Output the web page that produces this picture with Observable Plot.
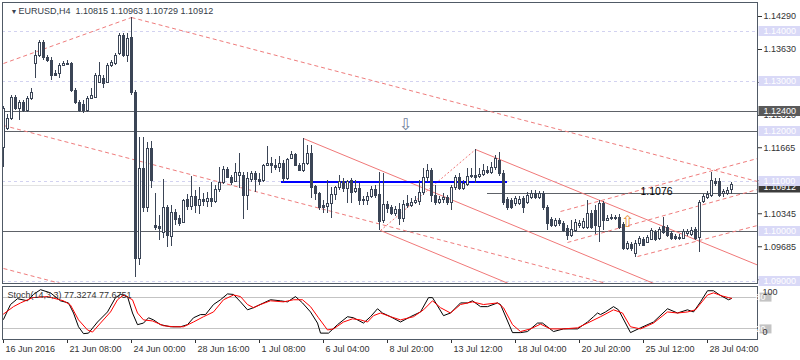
<!DOCTYPE html>
<html>
<head>
<meta charset="utf-8">
<script src="https://cdn.jsdelivr.net/npm/d3@7"></script>
<script src="https://cdn.jsdelivr.net/npm/@observablehq/plot@0.6"></script>
<style>
html,body{margin:0;padding:0;background:#fff;}
#chart{width:800px;height:360px;overflow:hidden;}
#chart svg{display:block;}
#chart svg text{white-space:pre;}
#chart svg rect, #chart svg line{shape-rendering:crispEdges;}
</style>
</head>
<body>
<div id="chart"></div>
<script>
// ---------- data ----------
const symbolName = "EURUSD";
const timeframe = "H4";

const opens = [1.1167,1.1205,1.1225,1.1267,1.1245,1.1257,1.1241,1.1265,1.1335,1.1351,1.1377,1.1347,1.1341,1.1315,1.1315,1.1331,1.1335,1.1335,1.1281,1.1257,1.1253,1.1241,1.1265,1.1267,1.1297,1.1305,1.1297,1.1331,1.1335,1.1355,1.1391,1.1351,1.1387,1.1277,1.0945,1.1125,1.1047,1.1165,1.1011,1.1009,1.0997,1.1047,1.0989,1.1037,1.1025,1.1017,1.1063,1.1049,1.1069,1.1051,1.1063,1.1059,1.1065,1.1059,1.1083,1.1097,1.1123,1.1107,1.1099,1.1111,1.1111,1.1071,1.1103,1.1115,1.1103,1.1101,1.1131,1.1135,1.1131,1.1127,1.1135,1.1105,1.1145,1.1153,1.1131,1.1121,1.1135,1.1155,1.1089,1.1075,1.1051,1.1049,1.1055,1.1073,1.1087,1.1099,1.1085,1.1101,1.1079,1.1085,1.1063,1.1061,1.1069,1.1083,1.1073,1.1021,1.1053,1.1047,1.1035,1.1043,1.1025,1.1055,1.1051,1.1057,1.1059,1.1077,1.1107,1.1121,1.1071,1.1057,1.1063,1.1067,1.1057,1.1087,1.1107,1.1085,1.1093,1.1109,1.1111,1.1109,1.1113,1.1121,1.1117,1.1127,1.1141,1.1115,1.1063,1.1061,1.1055,1.1055,1.1065,1.1057,1.1067,1.1075,1.1067,1.1075,1.1047,1.1023,1.1011,1.1021,1.1015,1.1005,1.0991,1.1001,1.1011,1.1007,1.1007,1.1035,1.1041,1.1009,1.1055,1.1021,1.1025,1.1027,1.1027,1.1013,1.0965,1.0973,1.0955,1.0975,1.0983,1.0977,1.0983,1.0997,1.0985,1.1009,1.1007,1.0995,1.0989,1.0987,1.0985,1.0995,1.0993,1.1003,1.0987,1.1059,1.1067,1.1071,1.1099,1.1099,1.1075,1.1075,1.10815];
const highs = [1.1249,1.1233,1.1271,1.1271,1.1261,1.1261,1.1269,1.1285,1.1361,1.1381,1.1381,1.1351,1.1347,1.1321,1.1335,1.1339,1.1341,1.1337,1.1285,1.1261,1.1261,1.1269,1.1285,1.1315,1.1337,1.1311,1.1335,1.1341,1.1355,1.1395,1.1395,1.1395,1.1427,1.1281,1.1187,1.1187,1.1177,1.1179,1.1075,1.1031,1.1103,1.1051,1.1051,1.1043,1.1031,1.1063,1.1073,1.1109,1.1081,1.1087,1.1075,1.1077,1.1097,1.1091,1.1127,1.1129,1.1127,1.1111,1.1135,1.1155,1.1117,1.1117,1.1119,1.1119,1.1115,1.1133,1.1169,1.1147,1.1143,1.1149,1.1141,1.1145,1.1159,1.1155,1.1135,1.1185,1.1171,1.1171,1.1091,1.1077,1.1061,1.1101,1.1087,1.1089,1.1111,1.1105,1.1101,1.1105,1.1101,1.1095,1.1069,1.1077,1.1089,1.1091,1.1117,1.1115,1.1059,1.1051,1.1049,1.1055,1.1061,1.1071,1.1065,1.1069,1.1101,1.1125,1.1133,1.1125,1.1091,1.1069,1.1075,1.1071,1.1091,1.1111,1.1115,1.1101,1.1125,1.1125,1.1163,1.1125,1.1133,1.1129,1.1137,1.1151,1.1157,1.1121,1.1067,1.1065,1.1069,1.1069,1.1069,1.1077,1.1081,1.1081,1.1079,1.1079,1.1051,1.1027,1.1025,1.1025,1.1019,1.1011,1.1021,1.1023,1.1021,1.1025,1.1061,1.1041,1.1051,1.1061,1.1059,1.1031,1.1033,1.1031,1.1033,1.1017,1.0979,1.0977,1.0981,1.0989,1.0987,1.0991,1.1005,1.1001,1.1007,1.1027,1.1011,1.0999,1.0993,1.0993,1.1003,1.1003,1.1007,1.1007,1.1061,1.1073,1.1079,1.1117,1.1105,1.1105,1.1083,1.1087,1.10963];
const lows = [1.1127,1.1201,1.1221,1.1241,1.1221,1.1237,1.1237,1.1261,1.1305,1.1347,1.1341,1.1337,1.1301,1.1309,1.1305,1.1329,1.1331,1.1277,1.1253,1.1237,1.1235,1.1237,1.1263,1.1265,1.1295,1.1285,1.1295,1.1327,1.1331,1.1351,1.1347,1.1337,1.1271,1.0907,1.0931,1.1037,1.1037,1.1085,1.1001,1.0981,1.0985,1.0967,1.0969,1.1011,1.1009,1.1015,1.1041,1.1041,1.1035,1.1033,1.1049,1.1047,1.1047,1.1055,1.1077,1.1093,1.1105,1.1091,1.1097,1.1085,1.1023,1.1041,1.1097,1.1077,1.1091,1.1097,1.1129,1.1115,1.1121,1.1117,1.1097,1.1101,1.1143,1.1129,1.1119,1.1117,1.1131,1.1065,1.1061,1.1041,1.1035,1.1035,1.1025,1.1061,1.1081,1.1077,1.1055,1.1055,1.1075,1.1051,1.1051,1.1051,1.1065,1.1065,1.1001,1.1015,1.1035,1.1031,1.1029,1.1011,1.1017,1.1045,1.1047,1.1053,1.1051,1.1071,1.1097,1.1057,1.1051,1.1053,1.1055,1.1051,1.1041,1.1081,1.1081,1.1081,1.1089,1.1105,1.1095,1.1105,1.1109,1.1113,1.1113,1.1121,1.1109,1.1051,1.1041,1.1043,1.1049,1.1051,1.1035,1.1053,1.1063,1.1063,1.1063,1.1041,1.1001,1.1007,1.1007,1.1009,1.0997,1.0981,1.0987,1.0997,1.1005,1.1003,1.1003,1.1003,1.0993,1.0977,1.1001,1.1019,1.1021,1.1021,1.1003,1.0961,1.0961,1.0959,1.0947,1.0969,1.0969,1.0975,1.0981,1.0979,1.0981,1.0993,1.0987,1.0981,1.0981,1.0981,1.0983,1.0989,1.0989,1.0981,1.0957,1.1055,1.1063,1.1067,1.1089,1.1067,1.1067,1.1071,1.10729];
const closes = [1.1245,1.1225,1.1267,1.1245,1.1257,1.1241,1.1265,1.1277,1.1351,1.1377,1.1347,1.1341,1.1311,1.1311,1.1331,1.1335,1.1333,1.1281,1.1257,1.1241,1.1241,1.1265,1.1271,1.1311,1.1311,1.1295,1.1331,1.1337,1.1351,1.1391,1.1351,1.1385,1.1277,1.0945,1.1125,1.1047,1.1165,1.1101,1.1007,1.1005,1.1047,1.0991,1.1037,1.1023,1.1015,1.1061,1.1049,1.1069,1.1051,1.1063,1.1059,1.1065,1.1059,1.1083,1.1097,1.1123,1.1107,1.1097,1.1117,1.1117,1.1071,1.1105,1.1115,1.1103,1.1099,1.1131,1.1135,1.1131,1.1127,1.1135,1.1105,1.1143,1.1153,1.1131,1.1121,1.1135,1.1155,1.1087,1.1075,1.1047,1.1047,1.1055,1.1073,1.1087,1.1099,1.1085,1.1099,1.1077,1.1085,1.1061,1.1061,1.1069,1.1083,1.1071,1.1019,1.1053,1.1045,1.1035,1.1043,1.1025,1.1053,1.1051,1.1057,1.1061,1.1077,1.1107,1.1121,1.1071,1.1057,1.1063,1.1067,1.1057,1.1087,1.1107,1.1085,1.1095,1.1109,1.1111,1.1107,1.1113,1.1121,1.1117,1.1127,1.1145,1.1115,1.1057,1.1047,1.1047,1.1065,1.1063,1.1047,1.1071,1.1075,1.1067,1.1075,1.1047,1.1015,1.1011,1.1021,1.1015,1.1001,1.0991,1.1003,1.1017,1.1015,1.1019,1.1035,1.1007,1.1011,1.1055,1.1021,1.1025,1.1027,1.1025,1.1007,1.0965,1.0975,1.0965,1.0975,1.0985,1.0971,1.0987,1.1001,1.0983,1.1003,1.0997,1.0991,1.0985,1.0985,1.0985,1.0999,1.0999,1.1001,1.0985,1.1057,1.1069,1.1073,1.1101,1.1095,1.1071,1.1079,1.1081,1.10912];

// time axis (bar index of each labelled bar, H4 bars)
const timeTickBars = [0,16,32,48,64,80,96,112,128,144,160,176];
const timeTickLabels = ["16 Jun 2016","21 Jun 08:00","24 Jun 00:00","28 Jun 16:00","1 Jul 08:00","6 Jul 04:00","8 Jul 20:00","13 Jul 12:00","18 Jul 04:00","20 Jul 20:00","25 Jul 12:00","28 Jul 04:00"];

// price axis
const priceTicks = [1.1429,1.1363,1.1297,1.1231,1.11665,1.11005,1.10345,1.09685,1.09025];
const roundLevels = [1.14,1.13,1.12,1.11,1.10,1.09];
const supportLevels = [1.124,1.12,1.10];
const supportLabelLevels = [1.124];

// drawn objects (bar index, price)
const level1076 = [{i1:121, i2:188.5, price:1.1076}];
const level1076Text = [{i:159.25, price:1.1076, text:"1.1076"}];
const blueSegment = [{i1:69.5, i2:126, price:1.1099}];
const dashedTrend = [
  {i1:0, p1:1.1335, i2:32, p2:1.1427},
  {i1:32, p1:1.1427, i2:188.5, p2:1.1099},
  {i1:0, p1:1.1211, i2:150.8, p2:1.0895},
  {i1:0, p1:1.0925, i2:14.3, p2:1.0895},
  {i1:139.25, p1:1.1039, i2:188.5, p2:1.1145},
  {i1:141, p1:1.0977, i2:188.5, p2:1.1083},
  {i1:158.5, p1:1.0949, i2:188.5, p2:1.1011}
];
const solidTrend = [
  {i1:75, p1:1.1185, i2:162.6, p2:1.0895},
  {i1:94.25, p1:1.1001, i2:126.25, p2:1.0895},
  {i1:118, p1:1.1163, i2:188.5, p2:1.0932}
];
const dottedTrend = [
  {i1:94.25, p1:1.1001, i2:118, p2:1.1163}
];
const arrowsDown = [{i:100.5, price:1.1213}];
const arrowsUp = [{i:156, price:1.1019}];

// stochastic (bar index, value)
const stochK = [[0,38],[1.75,66],[3.5,77],[6,73],[7.5,85],[9.25,94],[11.75,88],[14.25,73],[16.25,69],[17.5,50],[18.75,24],[20,11],[21.25,12],[23.5,33],[26,52],[28,79],[29.25,85],[31,81],[32.25,50],[33.5,28],[35,31],[36.25,41],[37.5,37],[39.25,28],[41.75,24],[44.25,24],[46,28],[47.5,41],[49.25,47],[50.5,47],[52.5,66],[54.25,75],[56,86],[57.5,85],[59.25,71],[61,56],[62.5,60],[65,69],[66.75,75],[69.25,73],[71,71],[73,81],[74.75,69],[76.75,52],[78.5,31],[79.25,12],[81.25,12],[83.5,28],[86,43],[87.5,41],[90,31],[91.75,43],[93.5,58],[94.75,50],[96.75,43],[99.25,33],[101.75,43],[104.25,52],[106.25,79],[107.25,79],[110,45],[111.75,50],[114.25,69],[116,69],[117.25,73],[119.25,62],[121,62],[123.5,69],[124.25,66],[127.25,13],[129.25,13],[131,15],[133.5,31],[134.75,31],[137.5,15],[140,20],[143.5,20],[146,33],[147.5,43],[148.5,50],[149.25,47],[150.5,52],[152.5,62],[153.75,56],[156.75,13],[159.25,22],[162.5,33],[166,58],[168.5,50],[171,56],[172.5,52],[174.25,71],[176,92],[177.5,92],[179.25,83],[181.25,75],[182,77.3274]];
const stochD = [[0,48],[2.5,62],[4.25,69],[7.25,79],[11,81],[15,73],[16.75,65],[18.75,37],[21,18],[22.25,14],[24.25,31],[26.75,52],[28.5,75],[30,84],[32.25,75],[33.5,50],[35,37],[37.25,35],[40,26],[42.5,24],[45,24],[47.5,33],[50,43],[52.5,52],[55,75],[57.5,84],[59.25,81],[61,66],[62.5,60],[64.25,66],[66.75,73],[70,71],[72.5,75],[74.75,75],[76.75,62],[78.75,41],[81,18],[82.5,20],[85,33],[87.25,39],[89.25,37],[91,33],[92.5,45],[94.25,50],[96.75,43],[99.25,37],[102.5,43],[105,56],[107.25,73],[109.25,60],[111.75,50],[114.25,66],[117.25,71],[120,66],[123.5,69],[125,60],[127.25,28],[129.25,15],[131.75,20],[134.25,29],[136.75,20],[140,20],[143.5,22],[146,31],[149.25,43],[152.5,56],[154.75,50],[156.75,24],[159.25,20],[162.5,31],[166,52],[168.5,50],[171,52],[173,56],[176,84],[177.5,88],[179.75,82],[181.25,79],[182,77.6751]];
const stochLevels = [80,20];
const stochParams = "Stoch(14,3,3)";

// ---------- chart ----------
const fmt5 = d3.format(".5f");
const candles = opens.map((o, i) => ({i, o, h: highs[i], l: lows[i], c: closes[i]}));
const bull = candles.filter(d => d.c >= d.o);
const bear = candles.filter(d => d.c < d.o);
const last = candles[candles.length - 1];
const lastK = stochK[stochK.length - 1][1], lastD = stochD[stochD.length - 1][1];

const CANDLE = "#3b4556";
const FRAME = "#505a66";
const FONT = "'Liberation Sans', Arial, sans-serif";
const boxWide = {draw(ctx) { ctx.moveTo(-21, -5); ctx.lineTo(21, -5); ctx.lineTo(21, 5); ctx.lineTo(-21, 5); ctx.closePath(); }};
const boxSmall = {draw(ctx) { ctx.moveTo(-6, -4.5); ctx.lineTo(6, -4.5); ctx.lineTo(6, 4.5); ctx.lineTo(-6, 4.5); ctx.closePath(); }};

const titleText = `${symbolName},${timeframe}  ${fmt5(last.o)} ${fmt5(last.h)} ${fmt5(last.l)} ${fmt5(last.c)}`;

const main = Plot.plot({
  width: 800, height: 286,
  marginTop: 2, marginRight: 43, marginBottom: 3, marginLeft: 2,
  style: {background: "#fff", color: "#333", fontFamily: FONT, fontSize: "9px", overflow: "visible"},
  x: {domain: [-0.25, 188.5], axis: null},
  y: {domain: [1.0895, 1.1457], axis: "right", ticks: priceTicks, tickFormat: fmt5, tickSize: 4, tickPadding: 2, label: null},
  marks: [
    Plot.ruleY([last.c], {stroke: "#e3e3e3"}),
    Plot.ruleY(roundLevels, {stroke: "#d2d2f0", strokeDasharray: "3,3"}),
    Plot.ruleY(supportLevels, {stroke: "#5e6268"}),
    Plot.ruleY(level1076, {y: "price", x1: "i1", x2: "i2", stroke: "#5e6268"}),
    Plot.link(dashedTrend, {x1: "i1", y1: "p1", x2: "i2", y2: "p2", stroke: "#ef7c7c", strokeDasharray: "4,3"}),
    Plot.link(solidTrend, {x1: "i1", y1: "p1", x2: "i2", y2: "p2", stroke: "#f07878"}),
    Plot.link(dottedTrend, {x1: "i1", y1: "p1", x2: "i2", y2: "p2", stroke: "#f07878", strokeDasharray: "2,2"}),
    Plot.ruleY(blueSegment, {y: "price", x1: "i1", x2: "i2", stroke: "#0000ff", strokeWidth: 2}),
    Plot.ruleX(candles, {x: "i", y1: "l", y2: "h", stroke: CANDLE}),
    Plot.rect(bull, {x1: d => d.i - 0.25, x2: d => d.i + 0.25, y1: "o", y2: "c", fill: "#fff", stroke: CANDLE}),
    Plot.rect(bear, {x1: d => d.i - 0.25, x2: d => d.i + 0.25, y1: "o", y2: "c", fill: CANDLE, stroke: CANDLE}),
    Plot.text(level1076Text, {x: "i", y: "price", text: "text", textAnchor: "start", fontSize: 10.5, fill: "#000", dy: -1}),
    Plot.text(arrowsDown, {x: "i", y: "price", text: () => "\u21E9", fontSize: 16, fontFamily: "DejaVu Sans", fill: "#6f7c99"}),
    Plot.text(arrowsUp, {x: "i", y: "price", text: () => "\u21E7", fontSize: 16, fontFamily: "DejaVu Sans", fill: "#e8913a"}),
    Plot.frame({stroke: FRAME}),
    Plot.dot([last.c], {y: d => d, frameAnchor: "right", dx: 22, dy: 2, symbol: boxWide, r: 1, fill: "#3c3c3c", stroke: "none"}),
    Plot.text([last.c], {y: d => d, frameAnchor: "right", dx: 6, dy: 2, textAnchor: "start", text: d => fmt5(d), fill: "#fff"}),
    Plot.dot(supportLabelLevels, {y: d => d, frameAnchor: "right", dx: 22, symbol: boxWide, r: 1, fill: "#5a5a5a", stroke: "none"}),
    Plot.text(supportLabelLevels, {y: d => d, frameAnchor: "right", dx: 6, textAnchor: "start", text: d => fmt5(d), fill: "#fff"}),
    Plot.dot(roundLevels, {y: d => d, frameAnchor: "right", dx: 22, symbol: boxWide, r: 1, fill: "#d9d9f7", stroke: "none"}),
    Plot.text(roundLevels, {y: d => d, frameAnchor: "right", dx: 6, textAnchor: "start", text: d => fmt5(d), fill: "#fff"}),
    Plot.text(["\u25BC"], {frameAnchor: "top-left", dx: 8, dy: 9, text: d => d, fontSize: 7, fill: "#3a4352", lineAnchor: "middle"}),
    Plot.text([titleText], {frameAnchor: "top-left", dx: 16, dy: 8.5, text: d => d, textAnchor: "start", lineAnchor: "middle", fill: "#333b48"})
  ]
});

const stoch = Plot.plot({
  width: 800, height: 74,
  marginTop: 0, marginRight: 43, marginBottom: 21, marginLeft: 2,
  style: {background: "#fff", color: "#333", fontFamily: FONT, fontSize: "9px", overflow: "visible"},
  x: {domain: [-0.25, 188.5], ticks: timeTickBars, tickFormat: () => "", tickSize: 4, tickPadding: 0, label: null},
  y: {domain: [0, 100], axis: null},
  marks: [
    Plot.ruleY(stochLevels, {stroke: "#c3c3c3"}),
    Plot.line(stochK, {x: d => d[0], y: d => d[1], stroke: "#000", strokeWidth: 1}),
    Plot.line(stochD, {x: d => d[0], y: d => d[1], stroke: "#ff0000", strokeWidth: 1}),
    Plot.frame({stroke: FRAME}),
    Plot.text(timeTickBars, {x: d => d, text: (d, i) => timeTickLabels[i], frameAnchor: "bottom", dy: 9.5, dx: 2, textAnchor: "start", lineAnchor: "middle", fill: "#333"}),
    Plot.text([`${stochParams} ${lastK.toFixed(4)} ${lastD.toFixed(4)}`], {frameAnchor: "top-left", dx: 5, dy: 9, text: d => d, textAnchor: "start", lineAnchor: "middle", fill: "#333"}),
    Plot.dot(stochLevels, {y: d => d, frameAnchor: "right", dx: 8, symbol: boxSmall, r: 1, fill: "#c4c4c4", stroke: "none"}),
    Plot.text(stochLevels, {y: d => d, frameAnchor: "right", dx: 8, text: d => String(d), fill: "#fff"}),
    Plot.text(["100"], {frameAnchor: "top-right", dx: 5, dy: 6, text: d => d, textAnchor: "start", lineAnchor: "middle", fill: "#333"}),
    Plot.text(["0"], {frameAnchor: "bottom-right", dx: 5, dy: -7, text: d => d, textAnchor: "start", lineAnchor: "middle", fill: "#333"})
  ]
});

document.getElementById("chart").append(main, stoch);
</script>
</body>
</html>
